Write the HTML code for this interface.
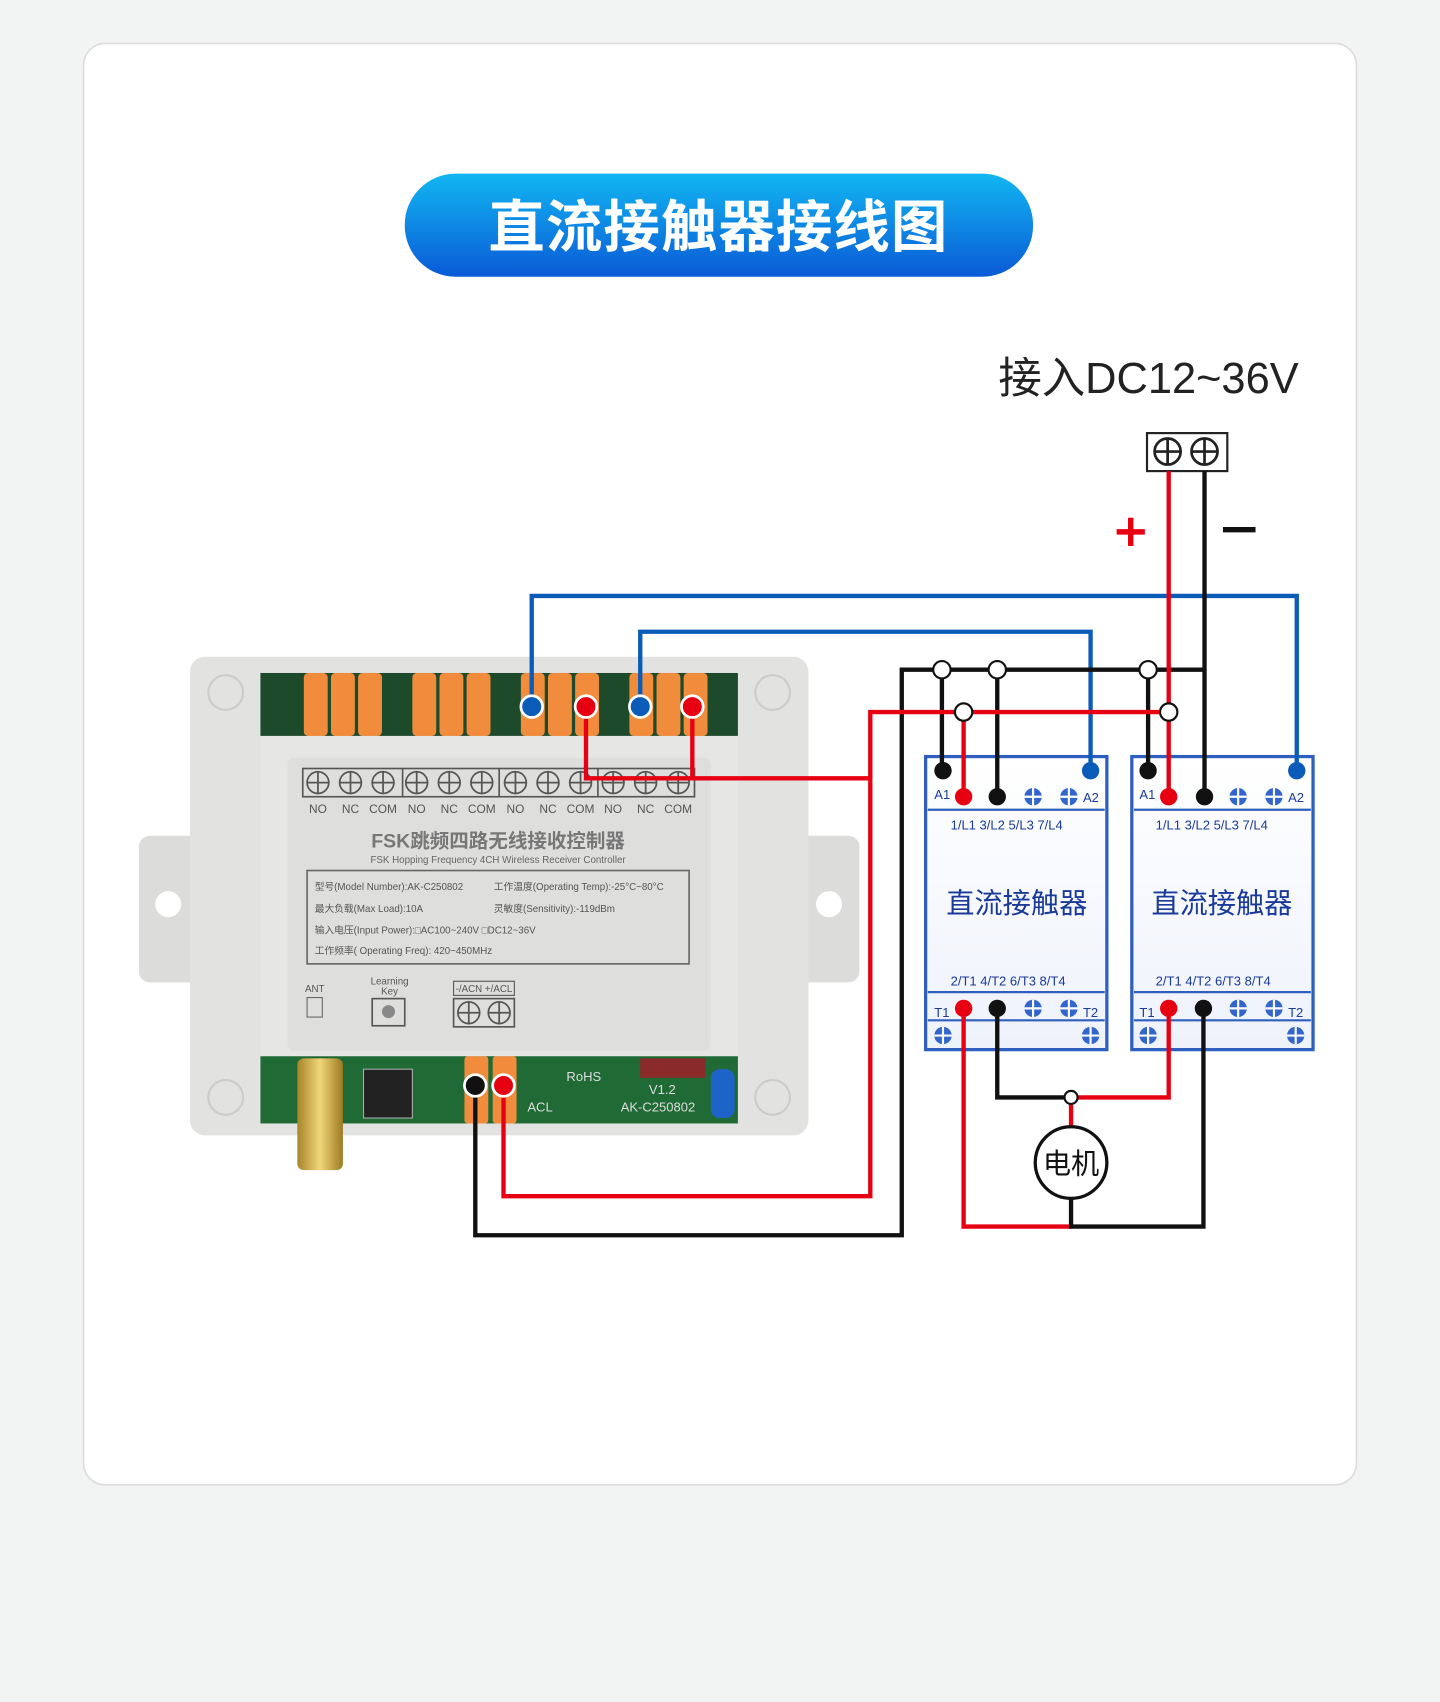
<!DOCTYPE html>
<html><head><meta charset="utf-8"><style>
html,body{margin:0;padding:0;background:#f2f3f3;}
svg{display:block;}
text{font-family:"Liberation Sans","Noto Sans CJK SC",sans-serif;}
</style></head><body>
<svg width="1440" height="1702" viewBox="0 0 1327 1568" preserveAspectRatio="none" xmlns="http://www.w3.org/2000/svg">
<defs>
<linearGradient id="tg" x1="0" y1="0" x2="0" y2="1"><stop offset="0" stop-color="#12b6f2"/><stop offset="1" stop-color="#0a5ad6"/></linearGradient>
<linearGradient id="cg" x1="0" y1="0" x2="0" y2="1"><stop offset="0" stop-color="#ffffff"/><stop offset="1" stop-color="#eef2fb"/></linearGradient>
<linearGradient id="gold" x1="0" y1="0" x2="1" y2="0"><stop offset="0" stop-color="#a8852a"/><stop offset=".5" stop-color="#f2d67a"/><stop offset="1" stop-color="#9c7a22"/></linearGradient>
<g id="plus"><circle r="10" fill="none" stroke="#555" stroke-width="1.6"/><path d="M-10 0H10M0 -10V10" stroke="#555" stroke-width="1.6"/></g>
<g id="bplus"><circle r="8" fill="#3366cc"/><path d="M-8 0H8M0 -8V8" stroke="#fff" stroke-width="2"/></g>
</defs>
<rect width="1327" height="1568" fill="#f2f3f3"/>
<rect x="77" y="40" width="1173" height="1328" rx="20" fill="#fff" stroke="#dcdcdc" stroke-width="1.5"/>
<rect x="373" y="160" width="579" height="95" rx="47" fill="url(#tg)"/>
<text x="662" y="227" font-size="52" font-weight="bold" fill="#fff" text-anchor="middle" letter-spacing="1">直流接触器接线图</text>
<text x="920" y="362" font-size="40" fill="#222">接入DC12~36V</text>
<rect x="1057" y="399" width="74" height="35" fill="#fff" stroke="#222" stroke-width="2"/>
<g stroke="#222" stroke-width="2.5" fill="none"><circle cx="1076" cy="416" r="12"/><circle cx="1110" cy="416" r="12"/><path d="M1064 416H1088M1076 404V428M1098 416H1122M1110 404V428"/></g>
<path d="M1029 490H1055M1042 477V503" stroke="#e60012" stroke-width="5"/>
<path d="M1127 488H1157" stroke="#111" stroke-width="5"/>

<!-- controller -->
<rect x="128" y="770" width="60" height="135" rx="10" fill="#dcdcda"/>
<rect x="732" y="770" width="60" height="135" rx="10" fill="#dcdcda"/>
<circle cx="155" cy="833" r="12" fill="#fff"/><circle cx="764" cy="833" r="12" fill="#fff"/>
<rect x="175" y="605" width="570" height="441" rx="14" fill="#e2e2e0"/>
<rect x="240" y="620" width="440" height="58" fill="#1e4a2c"/>
<rect x="240" y="973" width="440" height="62" fill="#1f6a35"/>
<g fill="#f08c3c">
<rect x="280" y="620" width="22" height="58" rx="4"/><rect x="305" y="620" width="22" height="58" rx="4"/><rect x="330" y="620" width="22" height="58" rx="4"/>
<rect x="380" y="620" width="22" height="58" rx="4"/><rect x="405" y="620" width="22" height="58" rx="4"/><rect x="430" y="620" width="22" height="58" rx="4"/>
<rect x="480" y="620" width="22" height="58" rx="4"/><rect x="505" y="620" width="22" height="58" rx="4"/><rect x="530" y="620" width="22" height="58" rx="4"/>
<rect x="580" y="620" width="22" height="58" rx="4"/><rect x="605" y="620" width="22" height="58" rx="4"/><rect x="630" y="620" width="22" height="58" rx="4"/>
<rect x="428" y="973" width="22" height="62" rx="3"/><rect x="454" y="973" width="22" height="62" rx="3"/>
</g>
<rect x="240" y="678" width="440" height="295" fill="#e6e6e4"/>
<rect x="265" y="698" width="390" height="270" rx="6" fill="#dededc"/>
<g fill="none" stroke="#ccc" stroke-width="2"><circle cx="208" cy="638" r="16"/><circle cx="712" cy="638" r="16"/><circle cx="208" cy="1011" r="16"/><circle cx="712" cy="1011" r="16"/></g>
<rect x="279" y="708" width="361" height="26" fill="none" stroke="#555" stroke-width="1.5"/>
<path d="M371 708V734M460 708V734M551 708V734" stroke="#555" stroke-width="1.5"/>
<g>
<use href="#plus" x="293" y="721"/><use href="#plus" x="323" y="721"/><use href="#plus" x="353" y="721"/>
<use href="#plus" x="384" y="721"/><use href="#plus" x="414" y="721"/><use href="#plus" x="444" y="721"/>
<use href="#plus" x="475" y="721"/><use href="#plus" x="505" y="721"/><use href="#plus" x="535" y="721"/>
<use href="#plus" x="565" y="721"/><use href="#plus" x="595" y="721"/><use href="#plus" x="625" y="721"/>
</g>
<text y="749" font-size="11" fill="#555" text-anchor="middle"><tspan x="293">NO</tspan><tspan x="323">NC</tspan><tspan x="353">COM</tspan><tspan x="384">NO</tspan><tspan x="414">NC</tspan><tspan x="444">COM</tspan><tspan x="475">NO</tspan><tspan x="505">NC</tspan><tspan x="535">COM</tspan><tspan x="565">NO</tspan><tspan x="595">NC</tspan><tspan x="625">COM</tspan></text>
<text x="459" y="781" font-size="18" font-weight="bold" fill="#777" text-anchor="middle">FSK跳频四路无线接收控制器</text>
<text x="459" y="795" font-size="9" fill="#666" text-anchor="middle">FSK Hopping Frequency 4CH Wireless Receiver Controller</text>
<rect x="283" y="802" width="352" height="86" fill="none" stroke="#666" stroke-width="1.5"/>
<g font-size="9" fill="#555"><text x="290" y="820">型号(Model Number):AK-C250802</text><text x="455" y="820">工作温度(Operating Temp):-25°C~80°C</text>
<text x="290" y="840">最大负载(Max Load):10A</text><text x="455" y="840">灵敏度(Sensitivity):-119dBm</text>
<text x="290" y="860">输入电压(Input Power):□AC100~240V □DC12~36V</text><text x="290" y="879">工作频率( Operating Freq): 420~450MHz</text></g>
<text x="290" y="914" font-size="9" fill="#555" text-anchor="middle">ANT</text>
<rect x="283" y="919" width="14" height="18" fill="none" stroke="#666"/>
<text x="359" y="907" font-size="9" fill="#555" text-anchor="middle">Learning</text><text x="359" y="916" font-size="9" fill="#555" text-anchor="middle">Key</text>
<rect x="343" y="920" width="30" height="25" fill="none" stroke="#555" stroke-width="1.5"/><circle cx="358" cy="932" r="6" fill="#888"/>
<rect x="418" y="904" width="56" height="13" fill="none" stroke="#555"/><text x="446" y="914" font-size="9" fill="#555" text-anchor="middle">-/ACN +/ACL</text>
<rect x="418" y="920" width="56" height="26" fill="none" stroke="#555" stroke-width="1.5"/>
<use href="#plus" x="432" y="933"/><use href="#plus" x="460" y="933"/>
<rect x="274" y="975" width="42" height="103" rx="6" fill="url(#gold)"/>
<rect x="335" y="985" width="45" height="45" fill="#222" stroke="#aaa"/>
<rect x="655" y="985" width="22" height="45" rx="8" fill="#1e63c8"/>
<rect x="590" y="975" width="60" height="18" fill="#8a2a2a"/>
<g font-size="12" fill="#ddd"><text x="522" y="996">RoHS</text><text x="572" y="1024">AK-C250802</text><text x="598" y="1008">V1.2</text><text x="486" y="1024">ACL</text></g>

<!-- contactors -->
<g>
<rect x="853" y="697" width="167" height="270" fill="url(#cg)" stroke="#2e5fbf" stroke-width="3"/>
<rect x="1043" y="697" width="167" height="270" fill="url(#cg)" stroke="#2e5fbf" stroke-width="3"/>
<path d="M855 746H1018M855 914H1018M855 940H1018M1045 746H1208M1045 914H1208M1045 940H1208" stroke="#2e5fbf" stroke-width="2"/>
<g font-size="12" fill="#1a3a9a">
<text x="861" y="736">A1</text><text x="998" y="739">A2</text><text x="876" y="764">1/L1  3/L2  5/L3  7/L4</text><text x="876" y="908">2/T1  4/T2  6/T3  8/T4</text><text x="861" y="937">T1</text><text x="998" y="937">T2</text>
<text x="1050" y="736">A1</text><text x="1187" y="739">A2</text><text x="1065" y="764">1/L1  3/L2  5/L3  7/L4</text><text x="1065" y="908">2/T1  4/T2  6/T3  8/T4</text><text x="1050" y="937">T1</text><text x="1187" y="937">T2</text>
</g>
<text x="937" y="841" font-size="26" fill="#1a3a9a" text-anchor="middle">直流接触器</text>
<text x="1126" y="841" font-size="26" fill="#1a3a9a" text-anchor="middle">直流接触器</text>
<use href="#bplus" x="952" y="734"/><use href="#bplus" x="985" y="734"/><use href="#bplus" x="952" y="929"/><use href="#bplus" x="985" y="929"/>
<use href="#bplus" x="869" y="954"/><use href="#bplus" x="1005" y="954"/>
<use href="#bplus" x="1141" y="734"/><use href="#bplus" x="1174" y="734"/><use href="#bplus" x="1141" y="929"/><use href="#bplus" x="1174" y="929"/>
<use href="#bplus" x="1058" y="954"/><use href="#bplus" x="1194" y="954"/>
</g>

<!-- wires -->
<g fill="none" stroke-width="4" stroke-linejoin="miter">
<path d="M490 651V549H1195V710" stroke="#0a5cb8"/>
<path d="M590 651V582H1005V710" stroke="#0a5cb8"/>
<path d="M438 1000V1138H831V617H1110" stroke="#111"/>
<path d="M1110 434V734M868 617V710M919 617V734M1058 617V710" stroke="#111"/>
<path d="M464 1000V1102H802V656H1077" stroke="#e60012"/>
<path d="M1077 434V734M888 656V734" stroke="#e60012"/>
<path d="M540 651V717H802M638 651V717" stroke="#e60012"/>
<path d="M919 929V1011H987" stroke="#111"/>
<path d="M987 1011H1077V929M987 1011V1038" stroke="#e60012"/>
<path d="M888 929V1130H987" stroke="#e60012"/>
<path d="M987 1104V1130H1109V929" stroke="#111"/>
</g>
<g fill="#fff" stroke="#111" stroke-width="2"><circle cx="868" cy="617" r="8"/><circle cx="919" cy="617" r="8"/><circle cx="1058" cy="617" r="8"/><circle cx="888" cy="656" r="8"/><circle cx="1077" cy="656" r="8"/><circle cx="987" cy="1011" r="6"/></g>
<circle cx="987" cy="1071" r="33" fill="#fff" stroke="#111" stroke-width="3"/>
<text x="987" y="1081" font-size="26" fill="#111" text-anchor="middle">电机</text>
<g stroke="#fff" stroke-width="2.5">
<circle cx="490" cy="651" r="10" fill="#0a5cb8"/><circle cx="590" cy="651" r="10" fill="#0a5cb8"/>
<circle cx="540" cy="651" r="10" fill="#e60012"/><circle cx="638" cy="651" r="10" fill="#e60012"/>
<circle cx="438" cy="1000" r="10" fill="#111"/><circle cx="464" cy="1000" r="10" fill="#e60012"/>
</g>
<g stroke="none">
<circle cx="869" cy="710" r="8" fill="#111"/><circle cx="888" cy="734" r="8" fill="#e60012"/><circle cx="919" cy="734" r="8" fill="#111"/><circle cx="1005" cy="710" r="8" fill="#0a5cb8"/>
<circle cx="1058" cy="710" r="8" fill="#111"/><circle cx="1077" cy="734" r="8" fill="#e60012"/><circle cx="1110" cy="734" r="8" fill="#111"/><circle cx="1195" cy="710" r="8" fill="#0a5cb8"/>
<circle cx="888" cy="929" r="8" fill="#e60012"/><circle cx="919" cy="929" r="8" fill="#111"/><circle cx="1077" cy="929" r="8" fill="#e60012"/><circle cx="1109" cy="929" r="8" fill="#111"/>
</g>
</svg>
</body></html>
